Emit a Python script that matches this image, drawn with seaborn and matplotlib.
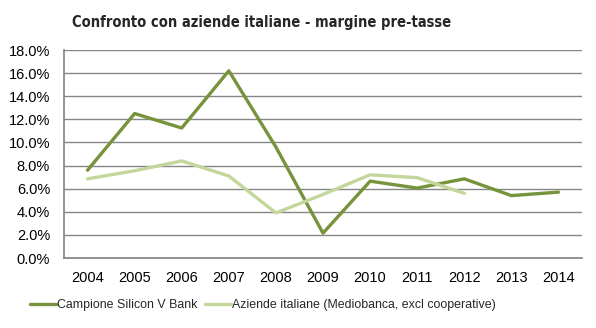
import matplotlib
matplotlib.use("Agg")
import matplotlib.pyplot as plt
import seaborn as sns
import pandas as pd
from matplotlib.ticker import FuncFormatter

years = ["2004", "2005", "2006", "2007", "2008", "2009", "2010", "2011", "2012", "2013", "2014"]
silicon = [7.6, 12.5, 11.25, 16.2, 9.6, 2.15, 6.65, 6.05, 6.85, 5.4, 5.7]
italiane = [6.85, 7.55, 8.4, 7.1, 3.9, 5.5, 7.2, 6.95, 5.6, None, None]
series_names = ["Campione Silicon V Bank", "Aziende italiane (Mediobanca, excl cooperative)"]
colors = ["#77933C", "#C3D69B"]

sns.set_theme(style="white")
plt.rcParams['font.family'] = ['Liberation Sans', 'DejaVu Sans']

rows = []
for i, y in enumerate(years):
    rows.append({"anno": i, "serie": series_names[0], "val": silicon[i]})
    if italiane[i] is not None:
        rows.append({"anno": i, "serie": series_names[1], "val": italiane[i]})
df = pd.DataFrame(rows)

fig = plt.figure(figsize=(5.96, 3.28), dpi=100)
ax = fig.add_axes([64/596, 70/328, 518/596, 208/328])

sns.lineplot(data=df, x="anno", y="val", hue="serie", palette=colors,
             hue_order=series_names, linewidth=2.4, ax=ax, legend=True, sort=False)

ax.set_xlim(-0.5, len(years) - 0.5)
ax.set_ylim(0, 18)
ax.set_yticks([i * 2 for i in range(10)])
ax.yaxis.set_major_formatter(FuncFormatter(lambda v, p: f"{v:.1f}%"))
ax.set_xticks(range(len(years)))
ax.set_xticklabels(years)
ax.set_xlabel("")
ax.set_ylabel("")
ax.grid(axis="y", color="#868686", linewidth=1)
ax.set_axisbelow(True)
for s in ["top", "right"]:
    ax.spines[s].set_visible(False)
ax.spines["left"].set_color("#868686")
ax.spines["bottom"].set_color("#868686")
ax.tick_params(axis="both", labelsize=10.5, colors="black", length=0)
ax.tick_params(axis="y", pad=10)
ax.tick_params(axis="x", pad=9)

leg = ax.legend(loc="center", bbox_to_anchor=((263 - 64) / 518, -47 / 208), ncol=2, frameon=False,
                fontsize=8.9, handlelength=2.1, handletextpad=0.1, columnspacing=0.6)

fig.text(262 / 596, 1 - 22 / 328, "Confronto con aziende italiane - margine pre-tasse", ha="center",
         va="center", fontsize=10.5, fontweight="bold", family=["DejaVu Sans"], fontstretch="condensed")

fig.savefig("out.png", dpi=100, facecolor="white")
